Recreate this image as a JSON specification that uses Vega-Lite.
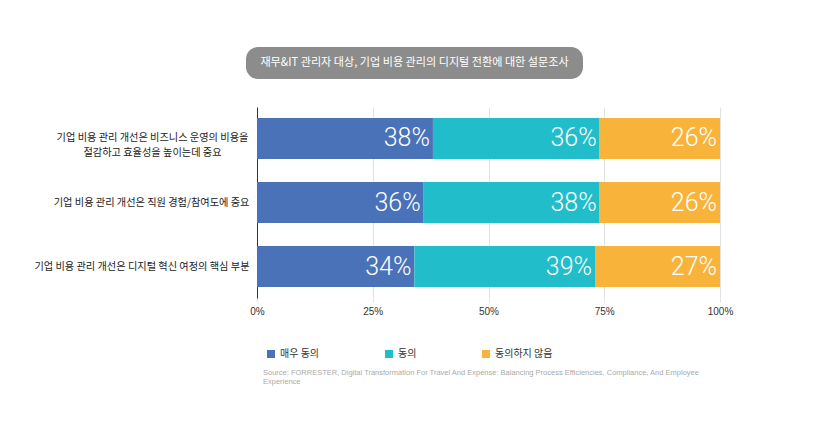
{
  "$schema": "https://vega.github.io/schema/vega-lite/v6.json",
  "background": "white",
  "padding": {"left": 33, "top": 47, "right": 5, "bottom": 5},
  "bounds": "flush",
  "spacing": 28,
  "config": {
    "font": "Noto Sans CJK KR",
    "view": {"stroke": null}
  },
  "title": {
    "text": ["Source: FORRESTER, Digital Transformation For Travel And Expense: Balancing Process Efficiencies, Compliance, And Employee", "Experience"],
    "orient": "bottom",
    "anchor": "start",
    "frame": "group",
    "font": "Liberation Sans",
    "fontSize": 7.5,
    "fontWeight": "normal",
    "color": "#aaaaaa",
    "lineHeight": 9,
    "dx": 6,
    "offset": 10
  },
  "vconcat": [
    {
      "width": 337,
      "height": 32,
      "data": {"values": [{"t": "재무&IT 관리자 대상, 기업 비용 관리의 디지털 전환에 대한 설문조사"}]},
      "layer": [
        {
          "mark": {"type": "bar", "color": "#d4d4d4", "opacity": 0.7, "cornerRadius": 13, "width": 337, "xOffset": -179.5, "yOffset": 3, "y2Offset": 3},
          "encoding": {}
        },
        {
          "mark": {"type": "bar", "color": "#8c8c8c", "cornerRadius": 12, "width": 337, "xOffset": -179.5},
          "encoding": {}
        },
        {
          "mark": {"type": "text", "color": "white", "fontSize": 11.1, "font": "Noto Sans CJK KR", "align": "center", "baseline": "middle", "dx": -11},
          "encoding": {"text": {"field": "t"}}
        }
      ]
    },
    {
      "width": 463,
      "height": 191,
      "data": {"values": [
        {"q": "기업 비용 관리 개선은 비즈니스 운영의 비용을 절감하고 효율성을 높이는데 중요", "cat": "매우 동의", "rank": 1, "value": 0.38},
        {"q": "기업 비용 관리 개선은 비즈니스 운영의 비용을 절감하고 효율성을 높이는데 중요", "cat": "동의", "rank": 2, "value": 0.36},
        {"q": "기업 비용 관리 개선은 비즈니스 운영의 비용을 절감하고 효율성을 높이는데 중요", "cat": "동의하지 않음", "rank": 3, "value": 0.26},
        {"q": "기업 비용 관리 개선은 직원 경험/참여도에 중요", "cat": "매우 동의", "rank": 1, "value": 0.36},
        {"q": "기업 비용 관리 개선은 직원 경험/참여도에 중요", "cat": "동의", "rank": 2, "value": 0.38},
        {"q": "기업 비용 관리 개선은 직원 경험/참여도에 중요", "cat": "동의하지 않음", "rank": 3, "value": 0.26},
        {"q": "기업 비용 관리 개선은 디지털 혁신 여정의 핵심 부분", "cat": "매우 동의", "rank": 1, "value": 0.34},
        {"q": "기업 비용 관리 개선은 디지털 혁신 여정의 핵심 부분", "cat": "동의", "rank": 2, "value": 0.39},
        {"q": "기업 비용 관리 개선은 디지털 혁신 여정의 핵심 부분", "cat": "동의하지 않음", "rank": 3, "value": 0.27}
      ]},
      "encoding": {
        "y": {
          "field": "q", "type": "nominal", "title": null,
          "sort": ["기업 비용 관리 개선은 비즈니스 운영의 비용을 절감하고 효율성을 높이는데 중요", "기업 비용 관리 개선은 직원 경험/참여도에 중요", "기업 비용 관리 개선은 디지털 혁신 여정의 핵심 부분"],
          "scale": {"paddingInner": 0.36, "paddingOuter": 0.17},
          "axis": {
            "domain": true, "domainColor": "#333333", "domainWidth": 1,
            "ticks": false,
            "labelFont": "Noto Sans CJK KR", "labelFontSize": 10.2, "labelColor": "#222222",
            "labelLimit": 400, "labelLineHeight": 15,
            "labelExpr": "indexof(datum.value, '비즈니스') >= 0 ? ['기업 비용 관리 개선은 비즈니스 운영의 비용을', '절감하고 효율성을 높이는데 중요'] : datum.value",
            "labelAlign": {"condition": {"test": "indexof(datum.value, '비즈니스') >= 0", "value": "center"}, "value": "right"},
            "labelPadding": {"condition": {"test": "indexof(datum.value, '비즈니스') >= 0", "value": 105}, "value": 8}
          }
        },
        "x": {
          "field": "value", "type": "quantitative", "stack": "zero", "title": null,
          "scale": {"domain": [0, 1]},
          "axis": {
            "values": [0, 0.25, 0.5, 0.75, 1], "format": ".0%",
            "domain": false, "grid": true, "gridColor": "#e2e2e2",
            "ticks": true, "tickColor": "#e2e2e2", "tickSize": 4,
            "labelFlush": false,
            "labelFont": "Liberation Sans", "labelFontSize": 10, "labelColor": "#333333", "labelPadding": 4
          }
        },
        "order": {"field": "rank", "type": "quantitative"}
      },
      "layer": [
        {
          "mark": {"type": "bar"},
          "encoding": {
            "color": {
              "field": "cat", "type": "nominal", "title": null,
              "scale": {"domain": ["매우 동의", "동의", "동의하지 않음"], "range": ["#4a72b8", "#22bdca", "#f8b33b"]},
              "legend": {
                "orient": "none", "legendX": 9, "legendY": 302, "direction": "horizontal",
                "symbolType": "square", "symbolSize": 64, "symbolStrokeWidth": 0,
                "labelFont": "Noto Sans CJK KR", "labelFontSize": 10, "labelColor": "#333333",
                "columnPadding": 64
              }
            }
          }
        },
        {
          "mark": {"type": "text", "align": "right", "baseline": "middle", "dx": -3, "color": "white", "font": "Roboto", "fontWeight": 300, "fontSize": 25},
          "encoding": {
            "detail": {"field": "cat", "type": "nominal"},
            "text": {"field": "value", "type": "quantitative", "format": ".0%"}
          }
        }
      ]
    }
  ]
}
